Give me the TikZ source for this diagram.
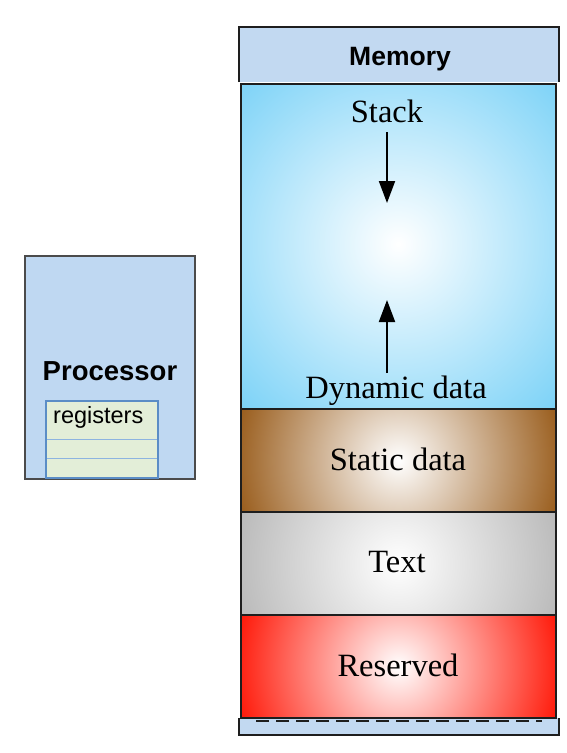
\documentclass[tikz,border=0pt]{standalone}
\usepackage{fontspec}
\setmainfont{Liberation Serif}
\newfontfamily\arialfont{Liberation Sans}
\usetikzlibrary{arrows.meta}
\definecolor{hdrblue}{HTML}{C2D9F1}
\definecolor{procblue}{HTML}{BFD8F2}
\definecolor{reggreen}{HTML}{E3EED8}
\definecolor{regborder}{HTML}{5B8DC6}
\definecolor{regline}{HTML}{8DB4E0}
\definecolor{stackblue}{HTML}{78D1F7}
\definecolor{staticbrown}{HTML}{9A5E1E}
\definecolor{textgray}{HTML}{B8B8B8}
\definecolor{resred}{HTML}{FF1A0A}
\definecolor{edge}{HTML}{1E1E1E}
\tikzset{
  segborder/.style={draw=edge, line width=1.8pt},
  serif/.style={inner sep=0pt, anchor=base, font=\fontsize{32.5}{36}\selectfont},
  sanslabel/.style={inner sep=0pt, anchor=base},
  growarrow/.style={line width=2pt, -{Triangle[length=22pt,width=16pt]}},
}
\newcommand{\segshade}[8]{% x1 y1 x2 y2 color radius cx cy
  \begin{scope}
    \clip (#1,#2) rectangle (#3,#4);
    \fill[#5] (#1,#2) rectangle (#3,#4);
    \shade[inner color=white, outer color=#5] (#7,#8) circle (#6);
  \end{scope}
  \draw[segborder] (#1,#2) rectangle (#3,#4);
}
\begin{document}
\begin{tikzpicture}[x=1pt,y=-1pt]
\useasboundingbox[fill=white] (0,0) rectangle (567,753);

% Memory header
\fill[hdrblue] (239,27) rectangle (559,82);
\draw[edge, line width=1.2pt] (239,82) -- (239,27) -- (559,27) -- (559,82);
\node[sanslabel, font=\arialfont\bfseries\fontsize{26.5}{30}\selectfont] (mem) at (400,65) {Memory};

% bottom strip
\fill[hdrblue] (239,718) rectangle (559,735);
\draw[edge, line width=1.2pt] (239,718) -- (239,735) -- (559,735) -- (559,718);

% segments
\segshade{241}{84}{556}{409}{stackblue}{235}{398}{244}
\segshade{241}{409}{556}{512}{staticbrown}{165}{398.5}{460.5}
\segshade{241}{512}{556}{615}{textgray}{170}{398.5}{563.5}
\segshade{241}{615}{556}{718}{resred}{165}{398.5}{666.5}

\draw[edge, line width=2pt, dash pattern=on 13pt off 7pt] (256,721) -- (542,721);

% segment labels
\node[serif] (stack) at (387,122) {Stack};
\node[serif] (dyn) at (396,398) {Dynamic data};
\node[serif] (static) at (398,470) {Static data};
\node[serif] (text) at (397,572) {Text};
\node[serif] (res) at (398,676) {Reserved};

% growth arrows
\coordinate (sdA) at (387,132);
\coordinate (sdB) at (387,203);
\coordinate (duA) at (387,373);
\coordinate (duB) at (387,300);
\draw[growarrow] (sdA) -- (sdB);
\draw[growarrow] (duA) -- (duB);

% Processor
\draw[fill=procblue, draw=edge!80, line width=1.2pt] (25,256) rectangle (195,479);
\node[sanslabel, font=\arialfont\bfseries\fontsize{27.5}{31}\selectfont] (proc) at (110,380) {Processor};
\fill[reggreen] (46,401) rectangle (158,478);
\draw[regline, line width=1pt] (46,439) -- (158,439);
\draw[regline, line width=1pt] (46,458) -- (158,458);
\draw[regborder, line width=1.5pt] (46,401) rectangle (158,478);
\node[sanslabel, anchor=base west, font=\arialfont\fontsize{23.5}{27}\selectfont] (reg) at (53,423) {registers};
\end{tikzpicture}
\end{document}
